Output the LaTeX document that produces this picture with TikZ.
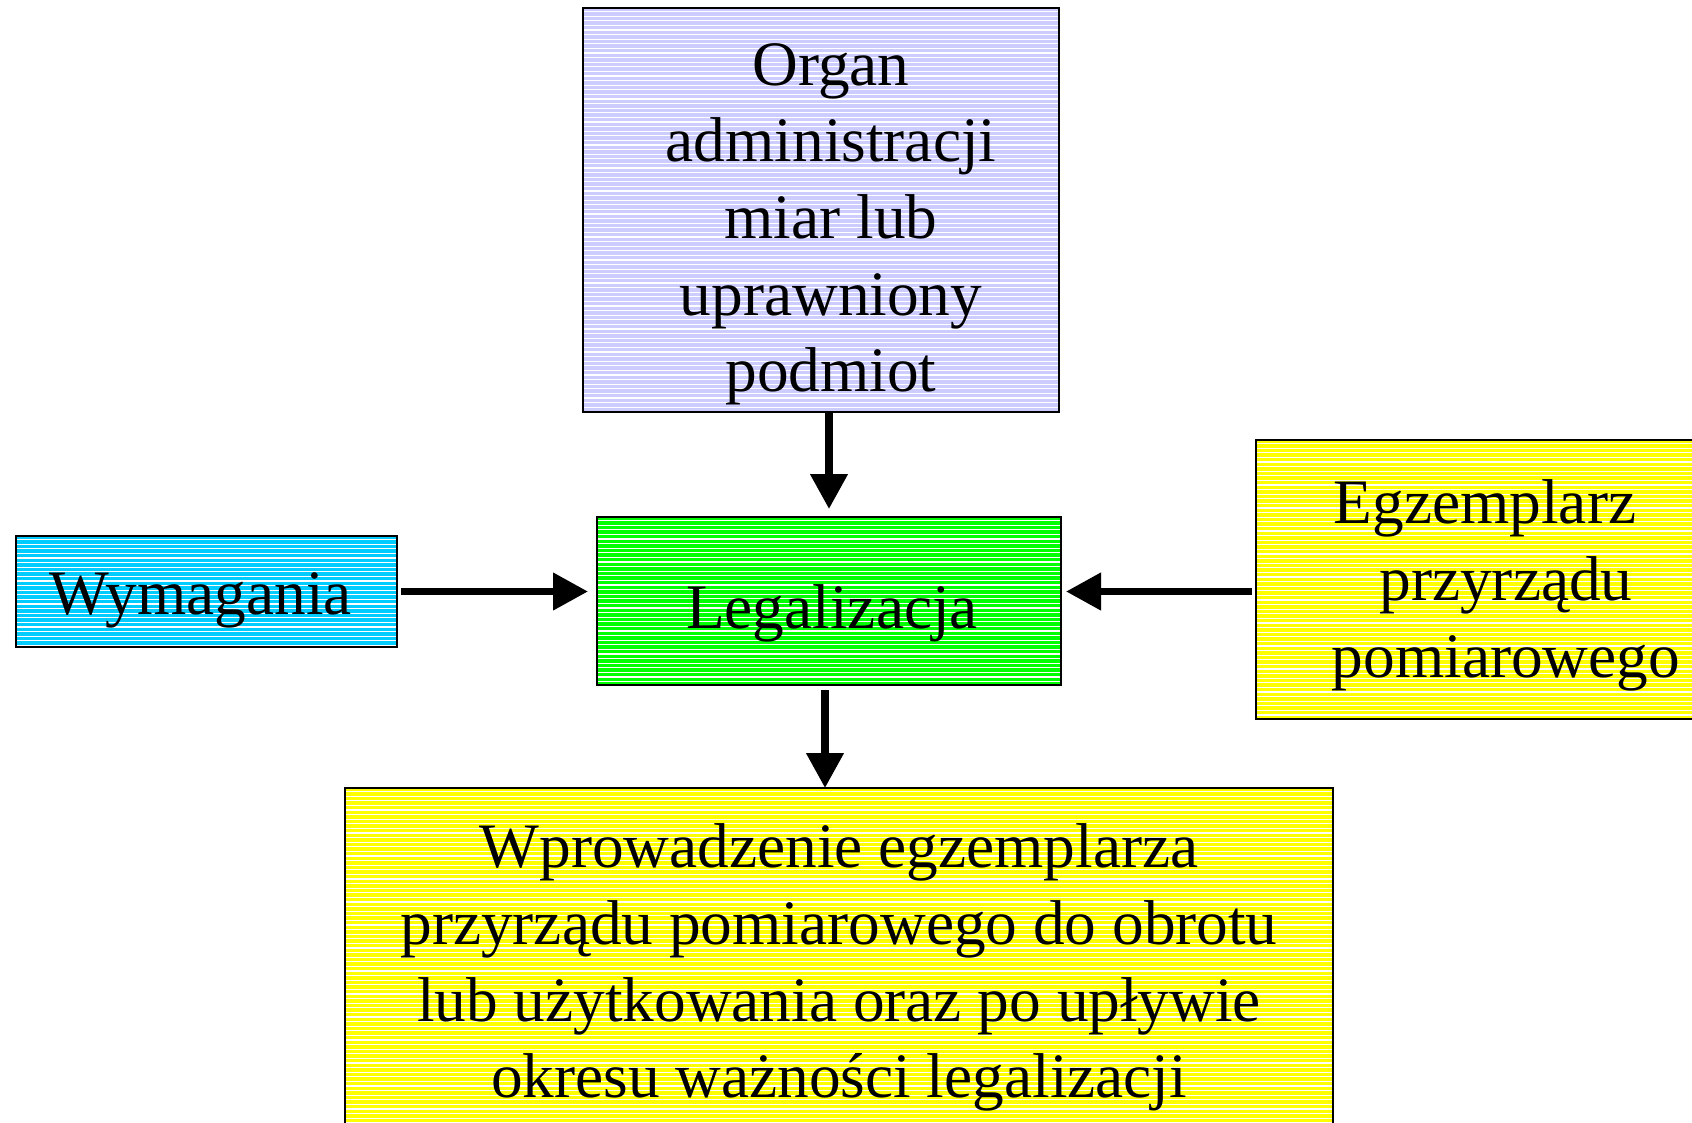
\documentclass[tikz,border=0pt]{standalone}
\usepackage{fontspec}
\setmainfont{Liberation Serif}
\usetikzlibrary{arrows.meta}
\definecolor{lavender}{RGB}{204,204,255}
\definecolor{lime}{RGB}{0,255,0}
\definecolor{sky}{RGB}{0,204,255}
\definecolor{lemon}{RGB}{255,255,0}
\tikzset{
  striped/.style={path picture={
      \foreach \k in {1,...,130}{
        \draw[white, line width=1.3pt]
          ([yshift=-\k*4.6pt+1pt]path picture bounding box.north west) --
          ([yshift=-\k*4.6pt+1pt]path picture bounding box.north east);}}},
  box/.style={rectangle, draw=black, line width=1.6pt, inner sep=0pt,
    outer sep=0pt, striped},
  % anchored at the baseline of the last line
  boxtext/.style={font=\fontsize{63.3}{76.6}\selectfont, align=center,
    anchor=base, inner sep=0pt},
  arr/.style={line width=7.5pt, -{Triangle[width=36pt,length=35pt]}},
}
\begin{document}
\begin{tikzpicture}[x=1pt,y=-1pt]
\useasboundingbox (0,0) rectangle (1692,1122);

% boxes
\node[box, fill=lavender, minimum width=476pt, minimum height=404pt] (organ) at (821,210) {};
\node[box, fill=lime, minimum width=464pt, minimum height=168pt] (legal) at (829,601) {};
\node[box, fill=sky, minimum width=381pt, minimum height=111pt] (wym) at (206.5,591.5) {};
\node[box, fill=lemon, minimum width=464pt, minimum height=279pt] (egz) at (1488,579.5) {};
\node[box, fill=lemon, minimum width=988pt, minimum height=362pt] (wpr) at (839,969) {};

% texts
\node[boxtext] (organtxt) at (831,391.6) {Organ\\administracji\\miar lub\\uprawniony\\podmiot};
\node[boxtext] (legaltxt) at (832,628) {Legalizacja};
\node[boxtext] (wymtxt) at (201,614) {Wymagania};
\node[boxtext] (egztxt) at (1506,677) {Egzemplarz\hspace*{42pt}\\przyrządu\\pomiarowego};
\node[boxtext] (wprtxt) at (839,1097.6) {Wprowadzenie egzemplarza\\przyrządu pomiarowego do obrotu\\lub użytkowania oraz po upływie\\okresu ważności legalizacji};

% connectors
\draw[arr, shorten <=1pt, shorten >=8pt] (organ.south -| legal.north) -- (legal.north);
\draw[arr, shorten <=5pt] ([xshift=-4pt]legal.south) -- ([xshift=-4pt]legal.south |- wpr.north);
\draw[arr, shorten <=4pt, shorten >=9pt] (wym.east) -- (wym.east -| legal.west);
\draw[arr, shorten <=4pt, shorten >=5pt] (egz.west |- wym.east) -- (legal.east |- wym.east);
\end{tikzpicture}
\end{document}
